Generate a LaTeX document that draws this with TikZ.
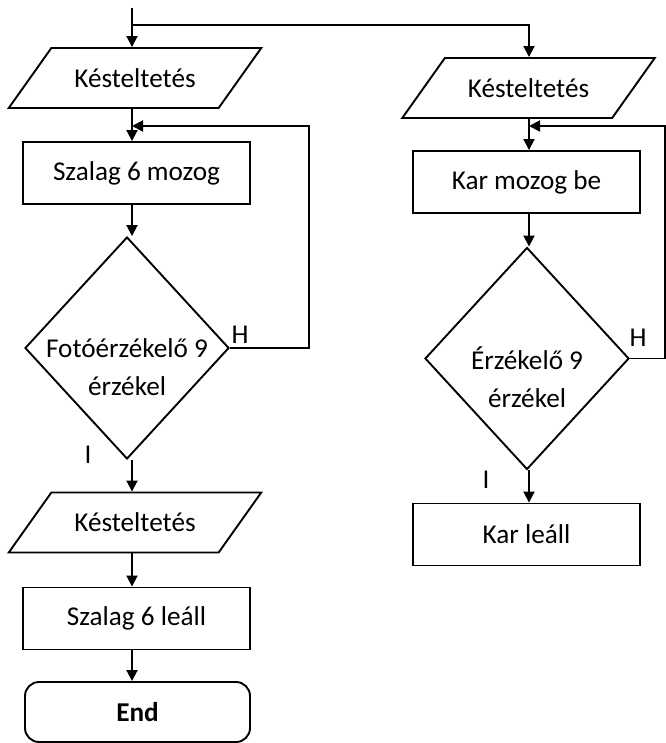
\documentclass[tikz,border=0pt]{standalone}
\usepackage{fontspec}
\setmainfont{Carlito}
\usetikzlibrary{shapes.geometric, arrows.meta, positioning, calc}

\begin{document}
\begin{tikzpicture}[x=0.5pt, y=-0.5pt, font=\fontsize{13.6}{19}\selectfont, >={Triangle[length=5.5pt,width=5.5pt]}, line width=0.95pt,
    box/.style={draw, rectangle, minimum width=113.5pt, minimum height=31pt},
    io/.style={draw, trapezium, trapezium left angle=43.4, trapezium right angle=136.6, trapezium stretches=true, minimum width=126.25pt, minimum height=30pt},
    dec/.style={draw, diamond, minimum width=102pt, minimum height=111pt, inner sep=0pt},
    dectext/.style={align=center},
    term/.style={draw, rectangle, rounded corners=7pt, minimum width=112.5pt, minimum height=30pt, font=\fontsize{13.6}{19}\selectfont\bfseries}]
    \useasboundingbox (0,0) rectangle (665,743);
    \coordinate (top) at (132,8);
    \coordinate (fork) at (132,25);
    \coordinate (colL) at (132,0);
    \coordinate (colR) at (529,0);

    % left branch
    \node[io] (p1) at (135,78) {Késteltetés};
    \node[box] (b1) at (136.5,173) {Szalag 6 mozog};
    \node[dec] (d1) at (127,348) {};
    \node[dectext] (t1) at ([yshift=-9.5pt]d1.center) {Fotóérzékelő 9\\érzékel};
    \node[io] (p2) at (135,522.5) {Késteltetés};
    \node[box] (b2) at (136.5,618.5) {Szalag 6 leáll};
    \node[term] (e1) at (137.5,712) {End};
    \node (h1) at (240,335) {H};
    \node (i1) at (88,455) {I};
    \coordinate (backL) at (309,126);
    \coordinate (loopL) at (132,126);

    % right branch
    \node[io] (p3) at (528.5,88) {Késteltetés};
    \node[box] (b3) at (526.5,182) {Kar mozog be};
    \node[dec] (d2) at (527,358.5) {};
    \node[dectext] (t2) at ([yshift=-9.5pt]d2.center) {Érzékelő 9\\érzékel};
    \node[box] (b4) at (526.5,534.5) {Kar leáll};
    \node (h2) at (638,338) {H};
    \node (i2) at (486,480) {I};
    \coordinate (backR) at (665,126);
    \coordinate (loopR) at (529,126);

    \draw[->] (top) -- (p1.north -| colL);
    \draw[->] (fork) -| (p3.north -| colR);
    \draw[->] (p1.south -| colL) -- (b1.north -| colL);
    \draw[->] (b1.south -| colL) -- (d1.north -| colL);
    \draw[->] (d1.south -| colL) -- (p2.north -| colL);
    \draw[->] (p2.south -| colL) -- (b2.north -| colL);
    \draw[->] (b2.south -| colL) -- (e1.north -| colL);
    \draw[->] (d1.east) -| (backL) -- (loopL);

    \draw[->] (p3.south -| colR) -- (b3.north -| colR);
    \draw[->] (b3.south -| colR) -- (d2.north -| colR);
    \draw[->] (d2.south -| colR) -- (b4.north -| colR);
    \draw[->] (d2.east) -| (backR) -- (loopR);
\end{tikzpicture}
\end{document}
